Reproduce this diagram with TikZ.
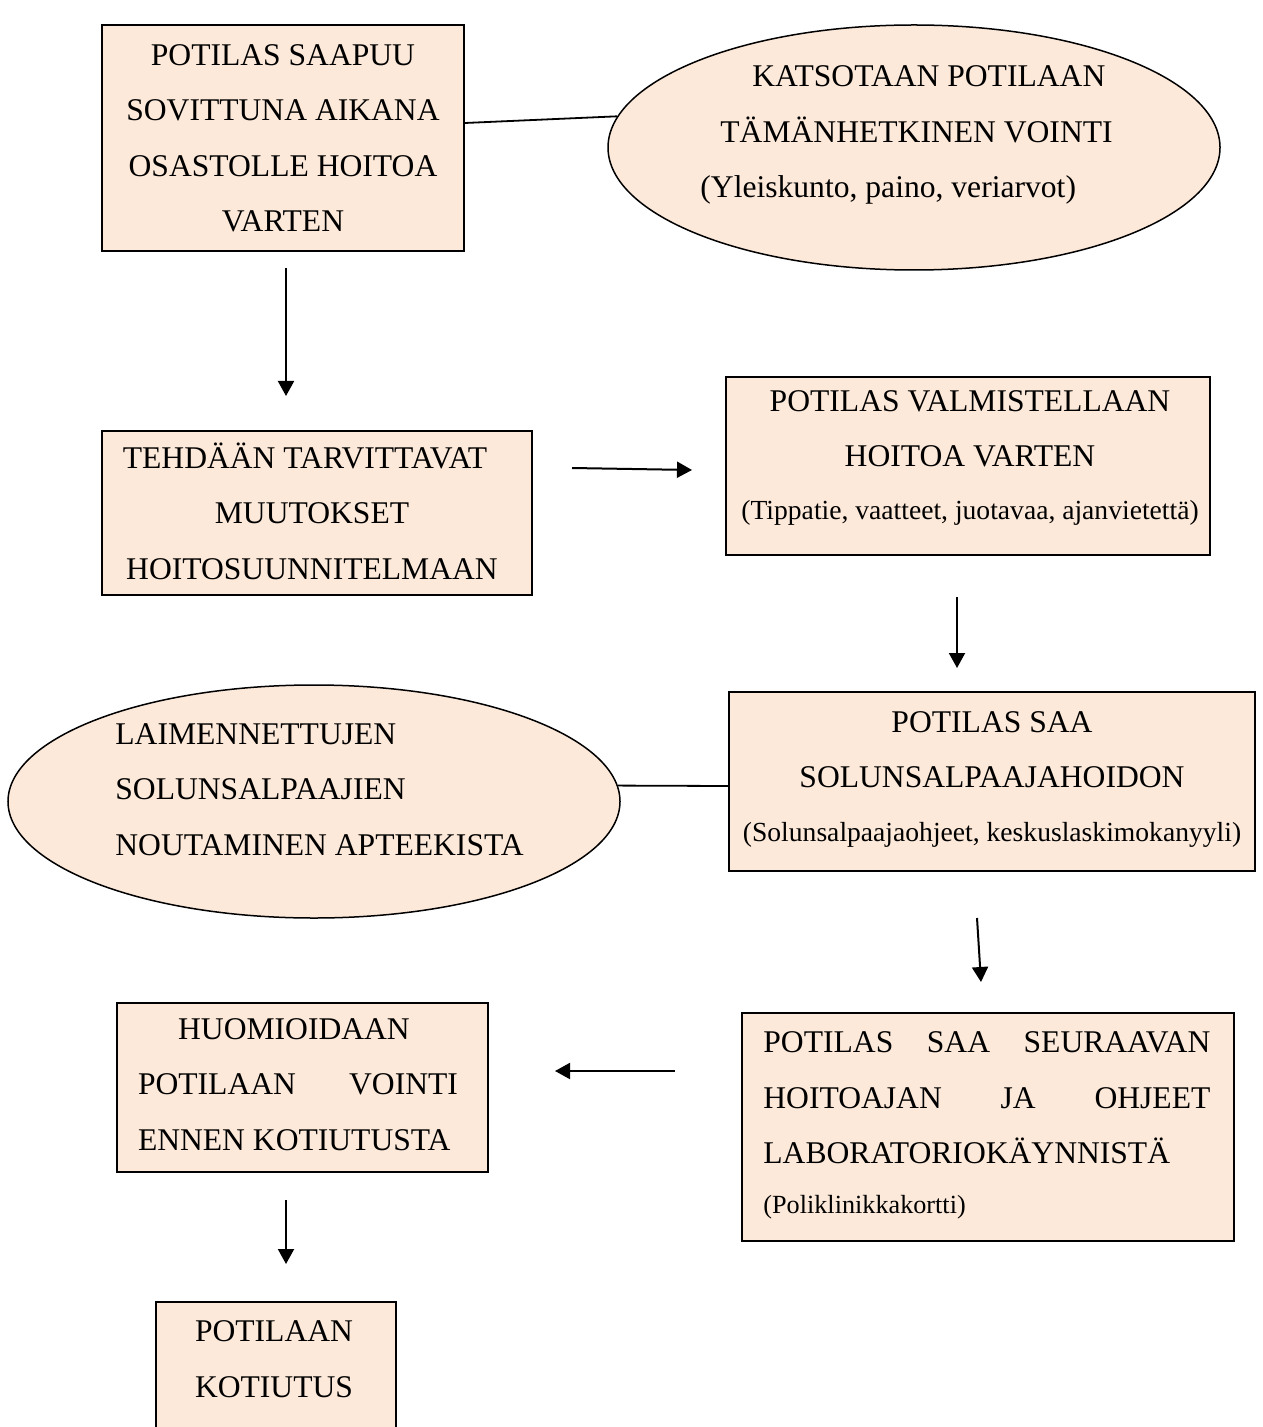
\documentclass[tikz,border=0pt]{standalone}
\usepackage{fontspec}
\setmainfont{Liberation Serif}
\usetikzlibrary{arrows.meta,shapes.geometric}
\definecolor{peach}{RGB}{253,233,217}
\newcommand{\bigtxt}{\fontsize{15.8}{27.75}\selectfont}
\newcommand{\smalltxt}{\fontsize{13.8}{27.75}\selectfont}
\newcommand{\notetxt}{\fontsize{13.1}{27.75}\selectfont}

\begin{document}
\begin{tikzpicture}[x=0.5pt,y=-0.5pt,
  box/.style={draw=black, fill=peach, line width=0.9pt, rectangle, inner sep=0pt},
  oval/.style={draw=black, fill=peach, line width=0.75pt, ellipse, inner sep=0pt},
  % multi-line texts are placed by the baseline of their last line
  txt/.style={inner sep=0pt, font=\bigtxt, align=center, anchor=base},
  ltxt/.style={inner sep=0pt, font=\bigtxt, align=left, anchor=base west},
  flow/.style={line width=1pt, -{Triangle[width=8pt,length=7.5pt]}},
  link/.style={line width=0.9pt}]
\clip (0,0) rectangle (1262,1427);
\fill[white] (0,0) rectangle (1262,1427);

% shapes
\node[oval, minimum width=306pt, minimum height=122.5pt] (e1) at (914,147.5) {};
\node[oval, minimum width=306pt, minimum height=116.5pt] (e2) at (314,801.5) {};
\node[box, minimum width=181pt, minimum height=113pt] (b1) at (283,138) {};
\node[box, minimum width=215pt, minimum height=82pt] (b2) at (317,513) {};
\node[box, minimum width=242pt, minimum height=89pt] (b3) at (968,466) {};
\node[box, minimum width=263pt, minimum height=89.5pt] (b4) at (992,781.5) {};
\node[box, minimum width=246pt, minimum height=114pt] (b5) at (988,1127) {};
\node[box, minimum width=185.5pt, minimum height=84.5pt] (b6) at (302.5,1087.5) {};
\node[box, minimum width=120pt, minimum height=99pt] (b7) at (276,1401) {};

% texts
\node[txt] (t1) at (283,232) {POTILAS SAAPUU\\SOVITTUNA AIKANA\\OSASTOLLE HOITOA\\VARTEN};
\node[ltxt] (te1) at (720,198) {\hspace*{16pt}KATSOTAAN POTILAAN\\TÄMÄNHETKINEN VOINTI\\\hspace*{-10pt}(Yleiskunto, paino, veriarvot)};
\node[txt] (t2) at (312,579) {TEHDÄÄN TARVITTAVAT\hspace*{7pt}\\MUUTOKSET\\HOITOSUUNNITELMAAN};
\node[txt] (t3) at (970,519) {POTILAS VALMISTELLAAN\\HOITOA VARTEN\\[-1.5pt]{\smalltxt (Tippatie, vaatteet, juotavaa, ajanvietettä)}};
\node[txt] (t4) at (992,841) {POTILAS SAA\\SOLUNSALPAAJAHOIDON\\[-1pt]{\smalltxt (Solunsalpaajaohjeet, keskuslaskimokanyyli)}};
\node[ltxt] (te2) at (115,855) {LAIMENNETTUJEN\\SOLUNSALPAAJIEN\\NOUTAMINEN APTEEKISTA};
\node[ltxt] (t5) at (763,1213) {\makebox[223.5pt][s]{POTILAS SAA SEURAAVAN}\\\makebox[223.5pt][s]{HOITOAJAN JA OHJEET}\\LABORATORIOKÄYNNISTÄ\\[-3pt]{\notetxt (Poliklinikkakortti)}};
\node[txt] (t6) at (298,1150) {HUOMIOIDAAN\hspace*{4pt}\\\makebox[160pt][s]{POTILAAN VOINTI}\\\makebox[160pt][l]{ENNEN KOTIUTUSTA}};
\node[txt] (t7) at (274,1397) {POTILAAN\\KOTIUTUS};

% connector end points
\coordinate (a1s) at (286,268);  \coordinate (a1e) at (286,396);
\coordinate (a2s) at (572,468);  \coordinate (a2e) at (692,470);
\coordinate (a3s) at (957,597);  \coordinate (a3e) at (957,668);
\coordinate (a4s) at (977,918);  \coordinate (a4e) at (981,982);
\coordinate (a5s) at (675,1071); \coordinate (a5e) at (555,1071);
\coordinate (a6s) at (286,1200); \coordinate (a6e) at (286,1264);

% plain links
\draw[link] ([yshift=7.5pt]b1.east) -- (e1.174);
\draw[link] (e2.3) -- ([yshift=-2.25pt]b4.west);

% flow arrows
\draw[flow] (a1s) -- (a1e);
\draw[flow] (a2s) -- (a2e);
\draw[flow] (a3s) -- (a3e);
\draw[flow] (a4s) -- (a4e);
\draw[flow] (a5s) -- (a5e);
\draw[flow] (a6s) -- (a6e);
\end{tikzpicture}
\end{document}
